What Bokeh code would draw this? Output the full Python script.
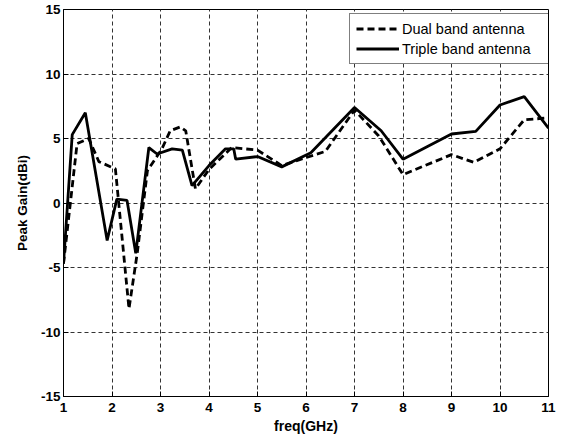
from bokeh.plotting import figure
from bokeh.models import FixedTicker, Legend, LegendItem, Range1d
from bokeh.embed import file_html
from bokeh.resources import INLINE

# ---- data ----
freq_dual = [1.0, 1.28, 1.52, 1.73, 2.07, 2.35, 2.52, 2.73, 3.03, 3.2, 3.41, 3.52, 3.72, 4.0,
             4.47, 5.0, 5.5, 5.9, 6.4, 7.0, 7.5, 8.0, 9.0, 9.46, 10.0, 10.5, 11.0]
gain_dual = [-4.7, 4.6, 5.0, 3.2, 2.65, -8.2, -3.9, 2.5, 4.2, 5.6, 5.9, 5.6, 1.1, 2.6,
             4.3, 4.1, 2.9, 3.4, 4.0, 7.2, 5.2, 2.2, 3.75, 3.15, 4.2, 6.45, 6.6]

freq_triple = [1.0, 1.18, 1.45, 1.9, 2.1, 2.31, 2.49, 2.76, 2.93, 3.24, 3.45, 3.65, 4.0, 4.34,
               4.51, 4.55, 5.0, 5.5, 6.1, 7.0, 7.55, 8.0, 9.0, 9.5, 10.0, 10.5, 11.0]
gain_triple = [-4.7, 5.3, 7.0, -2.9, 0.3, 0.2, -3.9, 4.3, 3.8, 4.2, 4.1, 1.35, 2.9, 4.2,
               4.2, 3.4, 3.6, 2.8, 3.9, 7.4, 5.6, 3.4, 5.35, 5.55, 7.6, 8.25, 5.8]

x_ticks = [1, 2, 3, 4, 5, 6, 7, 8, 9, 10, 11]
y_ticks = [-15, -10, -5, 0, 5, 10, 15]
series_labels = ["Dual band antenna", "Triple band antenna"]

p = figure(width=562, height=438, output_backend="svg", toolbar_location=None,
           x_range=Range1d(1, 11), y_range=Range1d(-15, 15),
           min_border_left=63, min_border_right=14, min_border_top=9, min_border_bottom=42)

p.background_fill_color = "white"
p.border_fill_color = "white"
p.outline_line_color = "black"
p.outline_line_width = 1

r_dual = p.line(freq_dual, gain_dual, line_color="black", line_width=2.8, line_dash="7 4")
r_tri = p.line(freq_triple, gain_triple, line_color="black", line_width=2.8)

for ax in (p.xaxis[0], p.yaxis[0]):
    ax.axis_line_color = "black"
    ax.major_tick_in = 5
    ax.major_tick_out = 0
    ax.minor_tick_line_color = None
    ax.major_tick_line_color = "black"
    ax.major_label_text_font = "Liberation Sans"
    ax.major_label_text_font_style = "bold"
    ax.major_label_text_font_size = "13.5px"
    ax.major_label_text_color = "black"
    ax.axis_label_text_font = "Liberation Sans"
    ax.axis_label_text_font_style = "bold"
    ax.axis_label_text_color = "black"

p.xaxis.ticker = FixedTicker(ticks=x_ticks)
p.yaxis.ticker = FixedTicker(ticks=y_ticks)
p.yaxis.major_label_overrides = {t: str(t) for t in y_ticks}
p.xaxis.axis_label = "freq(GHz)"
p.yaxis.axis_label = "Peak Gain(dBi)"
p.xaxis.axis_label_text_font_size = "14px"
p.yaxis.axis_label_text_font_size = "13.5px"
p.xaxis.major_label_standoff = 6
p.yaxis.major_label_standoff = 3
p.xaxis.axis_label_standoff = 3
p.yaxis.axis_label_standoff = 8

p.xgrid.ticker = FixedTicker(ticks=x_ticks)
p.ygrid.ticker = FixedTicker(ticks=y_ticks)
for g in (p.xgrid[0], p.ygrid[0]):
    g.grid_line_color = "#333333"
    g.grid_line_width = 1
    g.grid_line_dash = "4 3"

legend = Legend(items=[LegendItem(label=series_labels[0], renderers=[r_dual]),
                       LegendItem(label=series_labels[1], renderers=[r_tri])],
                location=(286, 332))
legend.border_line_color = "black"
legend.border_line_width = 1
legend.background_fill_color = "white"
legend.background_fill_alpha = 1
legend.label_text_font = "Liberation Sans"
legend.label_text_font_size = "14.5px"
legend.label_text_color = "black"
legend.glyph_width = 43
legend.glyph_height = 17
legend.label_height = 17
legend.label_width = 145
legend.label_standoff = 3
legend.spacing = 3
legend.padding = 6
legend.margin = 0
p.add_layout(legend, "center")

open("out.html", "w").write(file_html(p, INLINE))
